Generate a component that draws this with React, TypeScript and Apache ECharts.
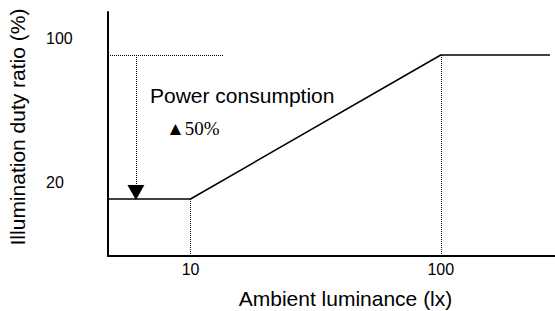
import React, { useEffect, useRef } from "react";
import * as echarts from "echarts";

const xRange = [4.68, 286];
const yRange = [-11.67, 123.9];
const curveX = [4.68, 10, 100, 273];
const curveY = [20, 20, 100, 100];
const xTickValues = [10, 100];
const yTickValues = [20, 100];
const xTitle = "Ambient luminance (lx)";
const yTitle = "Illumination duty ratio (%)";
const noteLabel = "Power consumption";
const noteValue = "▲50%";
const refLineEndX = 13.5;
const arrowX = 6.05;
const arrowEndY = 23.6;

export default function App() {
  const ref = useRef<HTMLDivElement>(null);
  useEffect(() => {
    const chart = echarts.init(ref.current!, null, { renderer: "svg" });
    const sans = "'Liberation Sans', Arial, sans-serif";
    const dotted = { color: "#000", width: 1, type: "dotted" as const };
    chart.setOption({
      animation: false,
      grid: { left: 108, right: 0, top: 12, bottom: 55, outerBoundsMode: "none", containLabel: false },
      xAxis: {
        type: "log",
        min: xRange[0],
        max: xRange[1],
        axisLine: { onZero: false, lineStyle: { color: "#000", width: 2 } },
        axisTick: { show: false },
        splitLine: { show: false },
        minorTick: { show: false },
        axisLabel: {
          customValues: xTickValues,
          color: "#000",
          fontFamily: sans,
          fontSize: 16,
          margin: 5,
          formatter: (v: number) => String(Math.round(v)),
        },
        name: xTitle,
        nameLocation: "middle",
        nameGap: 32,
        nameTextStyle: { color: "#000", fontFamily: sans, fontSize: 21, padding: [0, 0, 0, 28] },
      },
      yAxis: {
        type: "value",
        min: yRange[0],
        max: yRange[1],
        axisLine: { show: true, onZero: false, lineStyle: { color: "#000", width: 2 } },
        axisTick: { show: false },
        splitLine: { show: false },
        axisLabel: {
          customValues: yTickValues,
          color: "#000",
          fontFamily: sans,
          fontSize: 16,
          margin: 62,
          verticalAlign: "middle",
          align: "left",
          formatter: (v: number) => `{v|${v}}`,
          rich: {
            v: { fontFamily: sans, fontSize: 16, color: "#000", padding: [0, 0, 34, 0] },
          },
        },
        name: yTitle,
        nameLocation: "middle",
        nameGap: 80,
        nameTextStyle: { color: "#000", fontFamily: sans, fontSize: 21, padding: [0, 0, 0, 14] },
      },
      series: [
        {
          type: "line",
          data: curveX.map((x, i) => [x, curveY[i]]),
          symbol: "none",
          lineStyle: { color: "#000", width: 1.5 },
          markLine: {
            silent: true,
            symbol: "none",
            label: { show: false },
            lineStyle: dotted,
            data: [
              [{ coord: [curveX[1], curveY[1]] }, { coord: [curveX[1], yRange[0]] }],
              [{ coord: [curveX[2], curveY[2]] }, { coord: [curveX[2], yRange[0]] }],
              [{ coord: [xRange[0], curveY[2]] }, { coord: [refLineEndX, curveY[2]] }],
              [
                { coord: [arrowX, curveY[2]], symbol: "none" },
                { coord: [arrowX, arrowEndY], symbol: "triangle", symbolSize: [17, 15], symbolRotate: 180 },
              ],
            ],
          },
        },
      ],
      graphic: [
        {
          type: "text",
          left: 150,
          top: 85,
          style: { text: noteLabel, fill: "#000", font: `21px ${sans}` },
        },
        {
          type: "text",
          left: 166,
          top: 119,
          style: { text: noteValue, fill: "#000", font: "19px 'Liberation Serif', 'DejaVu Serif', serif" },
        },
      ],
    });
    return () => chart.dispose();
  }, []);
  return <div ref={ref} style={{ position: "absolute", left: 0, top: 0, width: 555, height: 311 }} />;
}
